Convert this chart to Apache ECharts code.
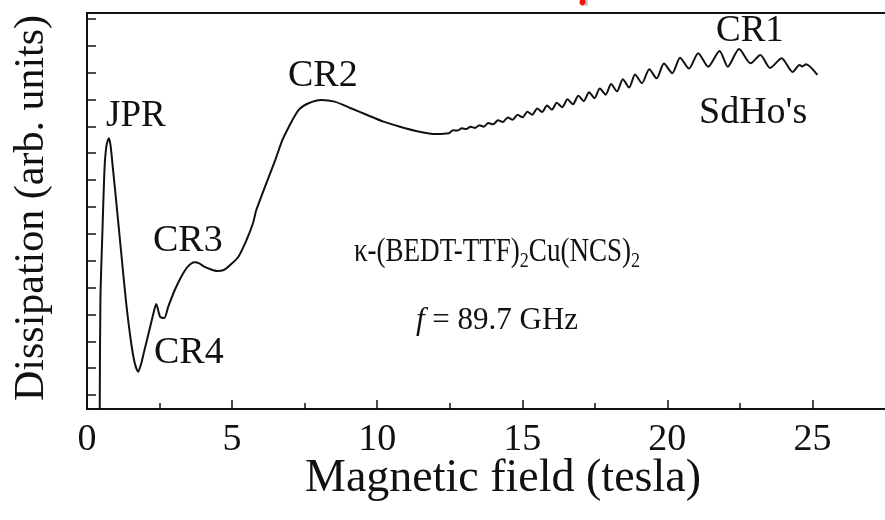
<!DOCTYPE html>
<html>
<head>
<meta charset="utf-8">
<script src="https://cdn.jsdelivr.net/npm/echarts@6/dist/echarts.min.js"></script>
<style>
  html, body { margin: 0; padding: 0; background: #fff; }
  #chart { width: 885px; height: 520px; }
</style>
</head>
<body>
<div id="chart"></div>
<script>
// Magnetic field (T)
const fieldT = [
  0.438, 0.462, 0.530, 0.607, 0.675, 0.752, 0.809, 0.887, 1.002, 1.170,
  1.339, 1.508, 1.636, 1.764, 1.855, 1.956, 2.125, 2.293, 2.385, 2.519,
  2.664, 2.799, 3.025, 3.248, 3.474, 3.700, 3.868, 4.037, 4.260, 4.486,
  4.712, 4.934, 5.218, 5.497, 5.723, 5.835, 6.509, 6.735, 6.958, 7.295,
  7.633, 8.084, 8.533, 9.096, 9.656, 10.219, 10.782, 11.457, 12.017, 12.469,
  12.614, 12.766, 12.917, 13.069, 13.221, 13.373, 13.524, 13.676, 13.828, 13.997,
  14.165, 14.334, 14.503, 14.671, 14.840, 15.009, 15.177, 15.346, 15.514, 15.683,
  15.852, 16.020, 16.189, 16.375, 16.560, 16.746, 16.931, 17.117, 17.302, 17.488,
  17.673, 17.875, 18.061, 18.263, 18.465, 18.685, 18.887, 19.123, 19.376, 19.629,
  19.882, 20.169, 20.439, 20.742, 21.063, 21.407, 21.798, 22.081, 22.472, 22.867,
  23.204, 23.541, 23.936, 24.317, 24.553, 24.654, 24.779, 25.170
];
// Dissipation (arb. units)
const dissipation = [
  -0.60, 3.537, 6.031, 8.488, 9.308, 9.557, 9.308, 8.500, 7.260, 5.398,
  3.537, 2.048, 1.229, 0.867, 1.117, 1.564, 2.308, 3.053, 3.388, 2.915,
  2.867, 3.287, 3.909, 4.404, 4.777, 4.940, 4.903, 4.777, 4.680, 4.617,
  4.654, 4.840, 5.149, 5.771, 6.404, 6.888, 8.812, 9.494, 9.989, 10.611,
  10.860, 10.983, 10.920, 10.674, 10.424, 10.175, 9.989, 9.803, 9.717, 9.743,
  9.855, 9.844, 9.926, 9.903, 9.985, 9.944, 10.041, 9.989, 10.123, 10.078,
  10.227, 10.164, 10.331, 10.250, 10.432, 10.335, 10.547, 10.436, 10.666, 10.536,
  10.774, 10.618, 10.878, 10.715, 11.005, 10.823, 11.140, 10.938, 11.273, 11.050,
  11.407, 11.180, 11.578, 11.303, 11.754, 11.448, 11.929, 11.608, 12.126, 11.787,
  12.338, 11.981, 12.558, 12.152, 12.725, 12.223, 12.807, 12.223, 12.882, 12.349,
  12.658, 12.174, 12.535, 12.025, 12.286, 12.230, 12.312, 11.914
];

const xMajorTicks = [0, 5, 10, 15, 20, 25];
const xTickLabels = ['0', '5', '10', '15', '20', '25'];
const xMinorTicks = [2.5, 7.5, 12.5, 17.5, 22.5];
const yTicks = [0, 1, 2, 3, 4, 5, 6, 7, 8, 9, 10, 11, 12, 13, 14];

const SERIF = '"Liberation Serif", "Times New Roman", serif';
const INK = '#111';
const X_MIN = 0, X_MAX = 27.5, Y_MIN = -0.52, Y_MAX = 14.22;

const chart = echarts.init(document.getElementById('chart'), null, { renderer: 'canvas' });

function label(text, x, y, size, extra) {
  return Object.assign({
    type: 'text', x: x, y: y, z: 10,
    style: { text: text, fontFamily: SERIF, fontSize: size, fill: INK,
             align: 'left', verticalAlign: 'middle' }
  }, extra || {});
}

chart.setOption({
  backgroundColor: '#fff',
  animation: false,
  grid: { left: 87, top: 13, width: 815, height: 396 },
  xAxis: [
    {
      type: 'value', min: X_MIN, max: X_MAX, position: 'bottom',
      axisLine: { show: true, onZero: false, lineStyle: { color: INK, width: 2 } },
      axisTick: { show: true, inside: true, length: 9, customValues: xMajorTicks,
                  lineStyle: { color: INK, width: 1.5 } },
      axisLabel: {
        show: true, customValues: xMajorTicks, margin: 12,
        formatter: v => xTickLabels[xMajorTicks.indexOf(v)] ?? '',
        fontFamily: SERIF, fontSize: 38, lineHeight: 38, color: INK
      },
      splitLine: { show: false }
    },
    {
      type: 'value', min: X_MIN, max: X_MAX, position: 'bottom',
      axisLine: { show: false, onZero: false },
      axisTick: { show: true, inside: true, length: 6, customValues: xMinorTicks,
                  lineStyle: { color: INK, width: 1.5 } },
      axisLabel: { show: false },
      splitLine: { show: false }
    },
    {
      type: 'value', min: X_MIN, max: X_MAX, position: 'top',
      axisLine: { show: true, onZero: false, lineStyle: { color: INK, width: 2 } },
      axisTick: { show: false },
      axisLabel: { show: false },
      splitLine: { show: false }
    }
  ],
  yAxis: {
    type: 'value', min: Y_MIN, max: Y_MAX,
    axisLine: { show: true, onZero: false, lineStyle: { color: INK, width: 2 } },
    axisTick: { show: true, inside: true, length: 9, customValues: yTicks,
                lineStyle: { color: INK, width: 1.5 } },
    axisLabel: { show: false },
    splitLine: { show: false }
  },
  series: [{
    type: 'line',
    xAxisIndex: 0,
    data: fieldT.map((b, i) => [b, dissipation[i]]),
    showSymbol: false,
    smooth: 0.25,
    clip: true,
    lineStyle: { color: INK, width: 2 }
  }],
  graphic: [
    label('JPR', 106, 116.7, 37),
    label('CR4', 154, 353.4, 38),
    label('CR3', 153, 241.4, 38),
    label('CR2', 288, 76.4, 38),
    label('CR1', 716, 31.7, 37),
    label("SdHo's", 699, 113.4, 38),
    {
      type: 'text', x: 497, y: 252, scaleX: 0.82, z: 10,
      style: {
        text: '{m|κ-(BEDT-TTF)}{s|2}{m|Cu(NCS)}{s|2}',
        fill: INK, align: 'center', verticalAlign: 'middle',
        rich: {
          m: { fontFamily: SERIF, fontSize: 33, lineHeight: 40, fill: INK },
          s: { fontFamily: SERIF, fontSize: 22, lineHeight: 14, verticalAlign: 'bottom', fill: INK }
        }
      }
    },
    {
      type: 'text', x: 497, y: 320.5, z: 10,
      style: {
        text: '{i|f}{m| = 89.7 GHz}',
        fill: INK, align: 'center', verticalAlign: 'middle',
        rich: {
          i: { fontFamily: SERIF, fontSize: 31, lineHeight: 40, fontStyle: 'italic', fill: INK },
          m: { fontFamily: SERIF, fontSize: 31, lineHeight: 40, fill: INK }
        }
      }
    },
    label('Magnetic field (tesla)', 503, 479.3, 46, { style: {
      text: 'Magnetic field (tesla)', fontFamily: SERIF, fontSize: 46, fill: INK,
      align: 'center', verticalAlign: 'middle' } }),
    {
      type: 'text', x: 32, y: 208, rotation: Math.PI / 2, z: 10,
      style: { text: 'Dissipation (arb. units)', fontFamily: SERIF, fontSize: 42,
               fill: INK, align: 'center', verticalAlign: 'middle' }
    },
    // small red mark clipped at the top edge
    { type: 'rect', shape: { x: 585, y: 0, width: 3, height: 6, r: 1 }, style: { fill: '#c8c8c8' }, z: 9 },
    { type: 'ellipse', shape: { cx: 582.5, cy: 2, rx: 3, ry: 3.5 }, style: { fill: '#ee1111' }, z: 10 }
  ]
});
</script>
</body>
</html>
